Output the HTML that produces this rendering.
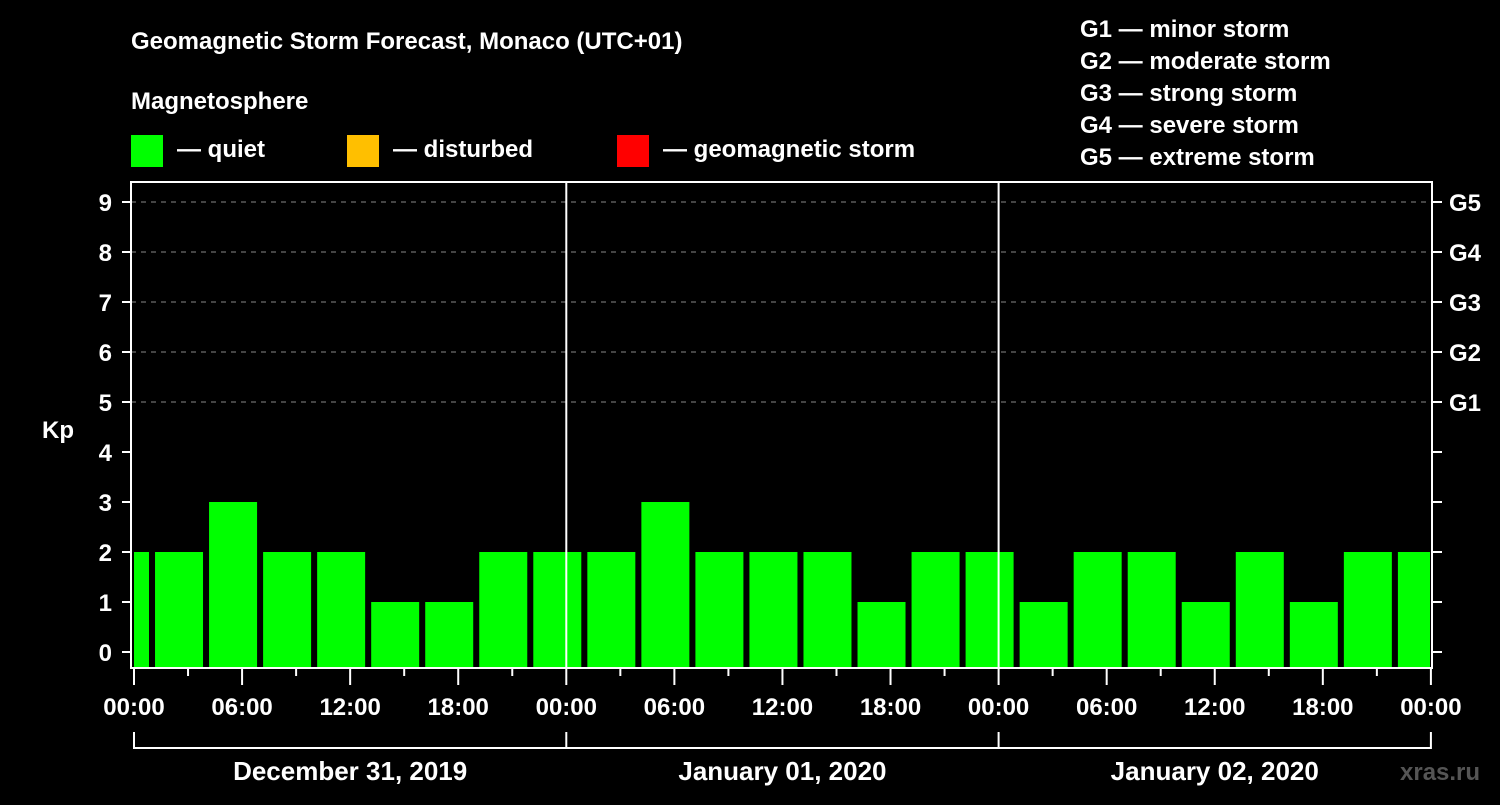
<!DOCTYPE html>
<html><head><meta charset="utf-8"><style>
body{margin:0;background:#000;width:1500px;height:800px;overflow:hidden;font-family:"Liberation Sans",sans-serif}
</style></head><body>
<svg width="1500" height="800" xmlns="http://www.w3.org/2000/svg" font-family="Liberation Sans, sans-serif" font-weight="bold" fill="#fff">
<rect width="1500" height="800" fill="#000"/>
<text x="131" y="49" font-size="24">Geomagnetic Storm Forecast, Monaco (UTC+01)</text>
<text x="131" y="109" font-size="24">Magnetosphere</text>
<g><rect x="131" y="135" width="32" height="32" fill="#00ff00"/><text x="177" y="157" font-size="24">— quiet</text></g>
<g><rect x="347" y="135" width="32" height="32" fill="#ffbf00"/><text x="393" y="157" font-size="24">— disturbed</text></g>
<g><rect x="617" y="135" width="32" height="32" fill="#ff0000"/><text x="663" y="157" font-size="24">— geomagnetic storm</text></g>
<g font-size="24">
<text x="1080" y="37">G1 — minor storm</text><text x="1080" y="69">G2 — moderate storm</text><text x="1080" y="101">G3 — strong storm</text><text x="1080" y="133">G4 — severe storm</text><text x="1080" y="165">G5 — extreme storm</text></g>
<text x="42" y="438" font-size="24">Kp</text>
<text x="1400" y="780" font-size="24" fill="#555">xras.ru</text>
<g id="chart"></g>
</svg>
<script>
const kpValues=[2,2,3,2,2,1,1,2,2,2,3,2,2,2,1,2,2,1,2,2,1,2,1,2,2];
const yTicks=[0,1,2,3,4,5,6,7,8,9];
const gLabels=["G1","G2","G3","G4","G5"];
const hourLabels=["00:00","06:00","12:00","18:00","00:00","06:00","12:00","18:00","00:00","06:00","12:00","18:00","00:00"];
const dayLabels=["December 31, 2019","January 01, 2020","January 02, 2020"];
const X0=134,DAYW=432.3,L=131,R=1432,T=182,B=668;
const xH=h=>X0+h*DAYW/24;
const yK=k=>652-k*50;
const g=document.getElementById('chart');
const NS='http://www.w3.org/2000/svg';
function mk(t,a,p){const e=document.createElementNS(NS,t);for(const k in a)e.setAttribute(k,a[k]);(p||g).appendChild(e);return e;}
yTicks.forEach(k=>{
  if(k>=5){const l=mk('line',{x1:L,x2:R,y1:yK(k),y2:yK(k),stroke:'#888','stroke-dasharray':'5,5','stroke-width':1});
  
  }
  mk('line',{x1:122,x2:L,y1:yK(k),y2:yK(k),stroke:'#fff','stroke-width':2});
  mk('line',{x1:R,x2:1442,y1:yK(k),y2:yK(k),stroke:'#fff','stroke-width':2});
  const t=mk('text',{x:112,y:yK(k)+9,'font-size':24,'text-anchor':'end'});t.textContent=k;
  
  
});
gLabels.forEach((s,i)=>{const t=mk('text',{x:1449,y:yK(5+i)+9,'font-size':24});t.textContent=s;
  
  });
const clip=mk('clipPath',{id:'pc'});mk('rect',{x:L+3,y:T,width:R-L-5,height:B-T},clip);
const bg=mk('g',{'clip-path':'url(#pc)'});
kpValues.forEach((v,i)=>{const c=xH(-0.5+3*i);
  const r=mk('rect',{x:c-24,y:yK(v),width:48,height:B-yK(v),fill:'#00ff00'},bg);
  
  });
[1,2].forEach(d=>{const l=mk('line',{x1:xH(24*d),x2:xH(24*d),y1:T,y2:B,stroke:'#fff','stroke-width':2});
  
  });
const box=mk('rect',{x:L,y:T,width:R-L,height:B-T,fill:'none',stroke:'#fff','stroke-width':2});


for(let h=0;h<=72;h+=3)mk('line',{x1:xH(h),x2:xH(h),y1:B,y2:h%6?676:685,stroke:'#fff','stroke-width':2});
hourLabels.forEach((s,i)=>{const t=mk('text',{x:xH(6*i),y:715,'font-size':24,'text-anchor':'middle'});t.textContent=s;
  
  });
mk('line',{x1:xH(0),x2:xH(72),y1:748,y2:748,stroke:'#fff','stroke-width':2});
[0,1,2,3].forEach(d=>mk('line',{x1:xH(24*d),x2:xH(24*d),y1:732,y2:749,stroke:'#fff','stroke-width':2}));
dayLabels.forEach((s,i)=>{const t=mk('text',{x:xH(24*i+12),y:780,'font-size':26,'text-anchor':'middle'});t.textContent=s;
  
  });
</script>
</body></html>
